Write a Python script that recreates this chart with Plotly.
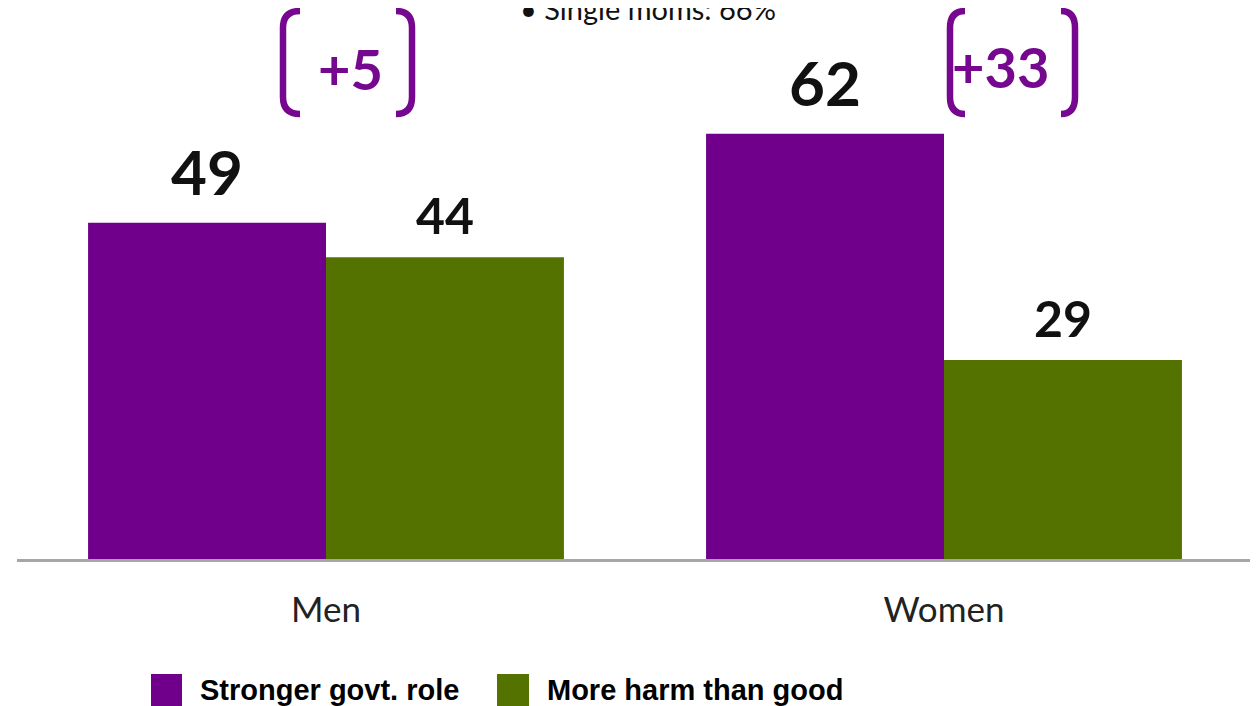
import plotly.graph_objects as go

categories = ["Men", "Women"]
stronger = [49, 62]
harm = [44, 29]
series_names = ["Stronger govt. role", "More harm than good"]
note_text = "• Single moms: 66%"

PURPLE = "#70008c"
GREEN = "#547200"
BRACKET = "#76088f"

# the page places the figure 8px from the top-left corner
OFF = 8
W, H = 1258, 706
ML, MT = 17 - OFF, 0
PLOT_RIGHT = 1253 - OFF
BASE = 559 - OFF
MR = W - PLOT_RIGHT
MB = H - BASE
PW, PH = W - ML - MR, H - MT - MB
BARGAP = 0.23
YTOP = PH / 6.86


def px(x, y):
    """page pixel position -> paper fraction"""
    return (x - OFF - ML) / PW, (BASE - (y - OFF)) / PH


fig = go.Figure()
fig.add_trace(go.Bar(x=categories, y=stronger, name=series_names[0],
                     marker=dict(color=PURPLE, line=dict(width=0)), showlegend=False))
fig.add_trace(go.Bar(x=categories, y=harm, name=series_names[1],
                     marker=dict(color=GREEN, line=dict(width=0)), showlegend=False))

annotations = []
off = (1 - BARGAP) / 4
for i, (s, h) in enumerate(zip(stronger, harm)):
    annotations.append(dict(x=i - off, y=s, xref="x", yref="y", text=f"<b>{s}</b>",
                            showarrow=False, yanchor="middle", yshift=52,
                            font=dict(family="Lato", size=62, color="#111111")))
    annotations.append(dict(x=i + off, y=h, xref="x", yref="y", text=f"<b>{h}</b>",
                            showarrow=False, yanchor="middle", yshift=42,
                            font=dict(family="Lato", size=50, color="#111111")))

# gap labels with brackets
gap_pos = [(350, 68), (1000, 66)]
bracket_x = [(283, 300, 396, 412), (950, 965, 1061, 1075)]
shapes = []


def P(x, y):
    a, b = px(x, y)
    return f"{a:.5f},{b:.5f}"


for i, (s, h) in enumerate(zip(stronger, harm)):
    gx, gy = px(*gap_pos[i])
    annotations.append(dict(x=gx, y=gy, xref="paper", yref="paper", text=f"<b>+{s - h}</b>",
                            showarrow=False, yanchor="middle", xanchor="center",
                            font=dict(family="Lato", size=56, color=BRACKET)))
    lv, le, re_, rv = bracket_x[i]
    top, bot = 11, 114
    r = 17
    left = (f"M {P(le, top)} Q {P(lv, top)} {P(lv, top + r)} L {P(lv, bot - r)} "
            f"Q {P(lv, bot)} {P(le, bot)}")
    right = (f"M {P(re_, top)} Q {P(rv, top)} {P(rv, top + r)} L {P(rv, bot - r)} "
             f"Q {P(rv, bot)} {P(re_, bot)}")
    for path in (left, right):
        shapes.append(dict(type="path", xref="paper", yref="paper", path=path,
                           line=dict(color=BRACKET, width=6.5)))

# top note (partially cut off)
nx, ny = px(648, 8)
annotations.append(dict(x=nx, y=ny, xref="paper", yref="paper", text=note_text,
                        showarrow=False, yanchor="middle", xanchor="center",
                        font=dict(family="Lato", size=29, color="#111111")))

# manual legend
legend_items = [(151, 182, series_names[0], PURPLE), (497, 529, series_names[1], GREEN)]
for x0, x1, name, col in legend_items:
    a0, b0 = px(x0, 706)
    a1, b1 = px(x1, 674)
    shapes.append(dict(type="rect", xref="paper", yref="paper", x0=a0, x1=a1, y0=b0, y1=b1,
                       fillcolor=col, line=dict(width=0)))
    tx, ty = px(x1 + 16, 690)
    annotations.append(dict(x=tx, y=ty, xref="paper", yref="paper", text=f"<b>{name}</b>",
                            showarrow=False, xanchor="left", yanchor="middle",
                            font=dict(family="Liberation Sans", size=29, color="#000000")))

fig.update_layout(
    width=W, height=H,
    margin=dict(l=ML, r=MR, t=MT, b=MB),
    paper_bgcolor="white", plot_bgcolor="white",
    barmode="group", bargap=BARGAP, bargroupgap=0,
    showlegend=False,
    annotations=annotations, shapes=shapes,
    xaxis=dict(type="category", showline=True, linecolor="#a6a6a6", linewidth=3,
               ticks="", showgrid=False, zeroline=False, ticklabelstandoff=18,
               tickfont=dict(family="Lato", size=35, color="#222222")),
    yaxis=dict(range=[0, YTOP], visible=False, showgrid=False, zeroline=False),
)

fig.write_html("out.html")
